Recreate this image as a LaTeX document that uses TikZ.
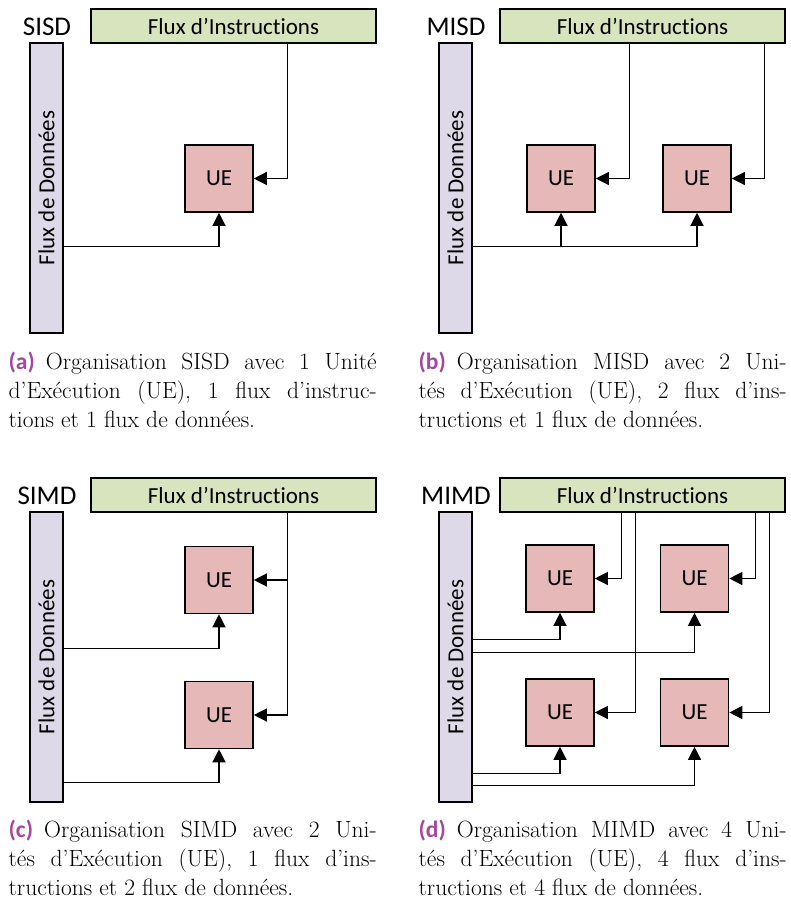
\documentclass[tikz,border=0pt]{standalone}
\usepackage{fontspec}
\setsansfont{Carlito}[Ligatures=NoCommon]
\usetikzlibrary{positioning,arrows.meta}
\definecolor{ii}{RGB}{215,228,189}
\definecolor{dd}{RGB}{222,217,232}
\definecolor{uu}{RGB}{230,185,184}
\definecolor{cap}{RGB}{163,72,156}
\def\bw{1.6pt}
\def\txt{\sffamily\fontsize{23}{26}\selectfont}
\tikzset{ue/.style={draw,line width=\bw,fill=uu,minimum width=68pt,minimum height=67pt,inner sep=0pt,font=\txt},
	legende/.style={anchor=north west,text width=368pt,align=justify,inner sep=0pt,font=\fontsize{23.5}{29}\selectfont}}
\newcommand{\sublabel}[1]{\textcolor{cap}{\sffamily\bfseries(#1)}\hspace*{11pt}}
\newcommand{\fluxpanel}[4]{\node[font=\sffamily\fontsize{27}{30}\selectfont] (#4lab) at ({#1+47},{#2+27}) {#3};
	\node[draw,line width=\bw,fill=ii,minimum width=285pt,minimum height=34pt,inner sep=0pt,font=\txt] (#4ins) at ({#1+233.5},{#2+26}) {Flux d’Instructions};
	\node[draw,line width=\bw,fill=dd,minimum width=33pt,minimum height=290pt,inner sep=0pt] (#4don) at ({#1+46.5},{#2+188}) {};
	\node[rotate=90,font=\txt] (#4txt) at (#4don) {Flux de Données}; }
\begin{document}
\begin{tikzpicture}[x=1pt,y=-1pt,line width=1.3pt,>={Triangle[length=13pt,width=13pt]}]
	\useasboundingbox (0,0) rectangle (791,901);
	\fluxpanel{0}{0}{SISD}{SISD}
	\fluxpanel{409}{0}{MISD}{MISD}
	\fluxpanel{0}{469}{SIMD}{SIMD}
	\fluxpanel{409}{469}{MIMD}{MIMD}

	% SISD
	\node[ue] (SISDue1) at (219,178.5) {UE};
	\draw[->] ([xshift=34pt]SISDue1.east |- SISDins.south) |- (SISDue1.east);
	\draw[->] ([yshift=-34pt]SISDue1.south -| SISDdon.east) -| (SISDue1.south);

	% MISD
	\node[ue] (MISDue1) at (561,178.5) {UE};
	\node[ue] (MISDue2) at (697,178.5) {UE};
	\draw[->] ([xshift=34pt]MISDue1.east |- MISDins.south) |- (MISDue1.east);
	\draw[->] ([xshift=33pt]MISDue2.east |- MISDins.south) |- (MISDue2.east);
	\draw[->] ([yshift=-34pt]MISDue2.south -| MISDdon.east) -| (MISDue2.south);
	\draw[->] ([yshift=-34pt]MISDue1.south) -- (MISDue1.south);

	% SIMD
	\node[ue] (SIMDue1) at (219,580) {UE};
	\node[ue] (SIMDue2) at (219,715) {UE};
	\draw[->] ([xshift=34pt]SIMDue2.east |- SIMDins.south) |- (SIMDue2.east);
	\draw[->] ([xshift=34pt]SIMDue1.east) -- (SIMDue1.east);
	\draw[->] ([yshift=-34pt]SIMDue1.south -| SIMDdon.east) -| (SIMDue1.south);
	\draw[->] ([yshift=-33pt]SIMDue2.south -| SIMDdon.east) -| (SIMDue2.south);

	% MIMD
	\node[ue] (MIMDue1) at (560,578.5) {UE};
	\node[ue] (MIMDue2) at (694.5,578.5) {UE};
	\node[ue] (MIMDue3) at (560,712.5) {UE};
	\node[ue] (MIMDue4) at (694.5,712.5) {UE};
	\draw[->] ([xshift=27pt]MIMDue1.east |- MIMDins.south) |- (MIMDue1.east);
	\draw[->] ([xshift=41pt]MIMDue3.east |- MIMDins.south) |- (MIMDue3.east);
	\draw[->] ([xshift=26pt]MIMDue2.east |- MIMDins.south) |- (MIMDue2.east);
	\draw[->] ([xshift=40pt]MIMDue4.east |- MIMDins.south) |- (MIMDue4.east);
	\draw[->] ([yshift=-27pt]MIMDue1.south -| MIMDdon.east) -| (MIMDue1.south);
	\draw[->] ([yshift=-40pt]MIMDue2.south -| MIMDdon.east) -| (MIMDue2.south);
	\draw[->] ([yshift=-27pt]MIMDue3.south -| MIMDdon.east) -| (MIMDue3.south);
	\draw[->] ([yshift=-39pt]MIMDue4.south -| MIMDdon.east) -| (MIMDue4.south);

	% legendes
	\node[legende] (capa) at (8,351) {\sublabel{a}Organisation SISD avec 1 Unité\linebreak d’Exécution (UE), 1 flux d’instruc-\linebreak tions et 1 flux de données.};
	\node[legende] (capb) at (418,351) {\sublabel{b}Organisation MISD avec 2 Uni-\linebreak tés d’Exécution (UE), 2 flux d’ins-\linebreak tructions et 1 flux de données.};
	\node[legende] (capc) at (8,819) {\sublabel{c}Organisation SIMD avec 2 Uni-\linebreak tés d’Exécution (UE), 1 flux d’ins-\linebreak tructions et 2 flux de données.};
	\node[legende] (capd) at (418,819) {\sublabel{d}Organisation MIMD avec 4 Uni-\linebreak tés d’Exécution (UE), 4 flux d’ins-\linebreak tructions et 4 flux de données.};
\end{tikzpicture}
\end{document}
